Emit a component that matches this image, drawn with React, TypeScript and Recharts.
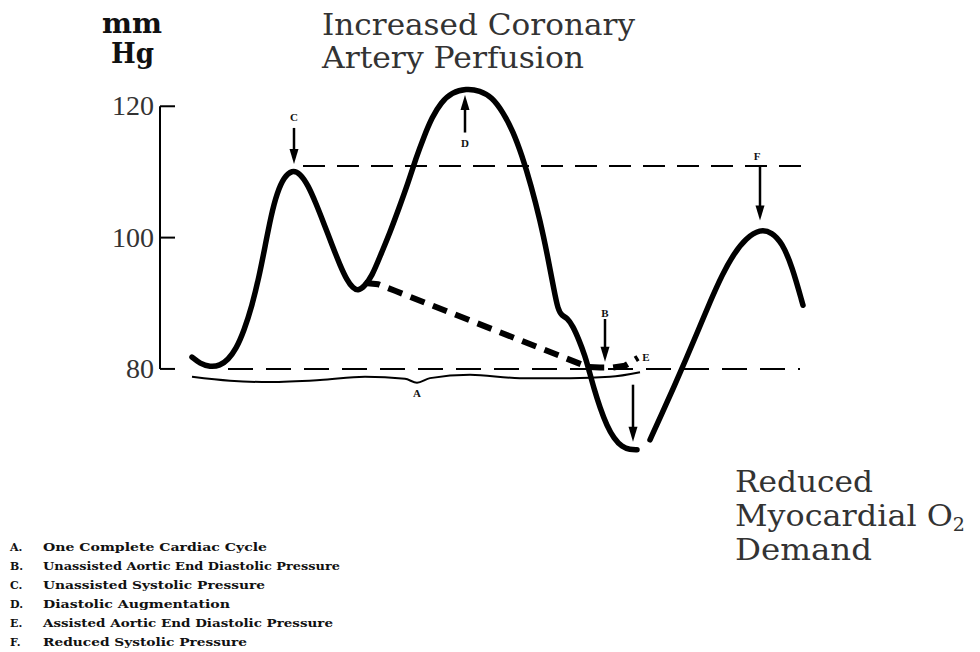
import { ComposedChart, Line, XAxis, YAxis, ReferenceLine, ReferenceDot } from 'recharts';

// time in ms, pressure in mmHg
const waveTime = [
  64, 80, 100, 120, 136, 152, 168, 184, 198, 210, 222, 234, 248, 264, 280, 296, 312, 328, 344, 360, 374,
  386, 396, 408, 424, 442, 460, 478, 496, 512, 528, 544, 562, 584, 612, 640, 664, 686, 706, 724, 742, 760,
  776, 788, 796, 804, 814, 826, 838, 850, 858, 868, 880, 894, 908, 924, 940, 954, 966, 980, 1004, 1028,
  1052, 1076, 1100, 1124, 1148, 1172, 1200, 1224, 1244, 1264, 1286,
];
const wavePressure = [
  81.8, 80.8, 80.3, 80.5, 81.4, 83.0, 85.8, 89.6, 94.0, 98.6, 103.3, 106.8, 109.2, 110.3, 109.8, 108.0,
  105.2, 102.1, 98.9, 95.8, 93.5, 92.3, 91.9, 92.5, 94.1, 97.5, 100.8, 104.5, 108.3, 112.1, 115.4, 118.3,
  120.6, 122.1, 122.7, 122.4, 121.4, 119.1, 116.2, 112.5, 108.0, 102.7, 96.9, 92.0, 89.0, 88.1, 87.8,
  86.5, 84.4, 82.0, 79.8, 77.0, 74.1, 71.3, 69.4, 68.1, 67.7, 67.7, null, 69.2, 73.2, 77.3, 81.5, 85.8,
  90.2, 94.3, 97.6, 99.9, 101.3, 100.8, 99.2, 95.7, 89.7,
];

const augmentTime = [410, 436, 470, 856, 880, 904, 930, 956];
const augmentPressure = [93.1, 92.9, 91.9, 80.3, 80.2, 80.2, 80.5, 81.7];

const braceTime = [64, 140, 220, 320, 410, 490, 514, 540, 620, 720, 820, 900, 960];
const bracePressure = [78.8, 78.2, 78.0, 78.3, 78.8, 78.5, 77.9, 78.6, 79.1, 78.6, 78.6, 78.8, 79.5];

const yTicks = [80, 100, 120];
const unassistedSystolic = 110.9;
const unassistedEndDiastolic = 80;

// arrows: [time, from, to]
const arrows = [
  [268, 116.7, 111.2],
  [610, 116.0, 121.7],
  [890, 87.6, 81.1],
  [946, 77.6, 68.9],
  [1200, 110.8, 102.6],
];

// point labels: [letter, time, pressure]
const pointLabels = [
  ['C', 268, 118.3],
  ['D', 610, 114.4],
  ['B', 890, 88.5],
  ['E', 972, 81.8],
  ['F', 1194, 112.5],
  ['A', 514, 76.3],
];

const legendLetters = ['A.', 'B.', 'C.', 'D.', 'E.', 'F.'];
const legendTexts = [
  'One Complete Cardiac Cycle',
  'Unassisted Aortic End Diastolic Pressure',
  'Unassisted Systolic Pressure',
  'Diastolic Augmentation',
  'Assisted Aortic End Diastolic Pressure',
  'Reduced Systolic Pressure',
];
const legendWidths = [224, 297, 222, 187, 290, 204];

const waveData = waveTime.map((t, i) => ({ t, p: wavePressure[i] }));
const augmentData = augmentTime.map((t, i) => ({ t, p: augmentPressure[i] }));
const braceData = braceTime.map((t, i) => ({ t, p: bracePressure[i] }));

const serif = '"Liberation Serif", "Times New Roman", serif';
const wideSerif = '"DejaVu Serif", serif';

function AxisTick(props: any) {
  const { x, y, payload } = props;
  return (
    <g>
      <text x={x - 6} y={y} dy={9} textAnchor='end' fontFamily={serif} fontSize={28} fill='#333'>
        {payload.value}
      </text>
      <line x1={x} x2={x + 15} y1={y} y2={y} stroke='#000' strokeWidth={2} />
    </g>
  );
}

function ArrowShape(props: any) {
  const { x1, y1, x2, y2 } = props;
  const dir = Math.sign(y2 - y1);
  return (
    <g>
      <line x1={x1} y1={y1} x2={x2} y2={y2 - dir * 8} stroke='#000' strokeWidth={2.5} />
      <polygon points={`${x2},${y2} ${x2 - 4.5},${y2 - dir * 15} ${x2 + 4.5},${y2 - dir * 15}`} fill='#000' />
    </g>
  );
}

export default function App() {
  return (
    <div style={{ position: 'absolute', left: 0, top: 0, width: 980, height: 652, background: '#fff' }}>
      <ComposedChart width={980} height={652} margin={{ top: 80, right: 170, bottom: 178, left: 0 }}>
        <XAxis type='number' dataKey='t' domain={[0, 1300]} hide allowDataOverflow />
        <YAxis
          type='number'
          domain={[64, 124]}
          ticks={yTicks}
          interval={0}
          width={160}
          axisLine={false}
          tickLine={false}
          tickSize={0}
          tickMargin={0}
          tick={(p: any) => <AxisTick {...p} />}
          allowDataOverflow
        />
        <ReferenceLine
          segment={[
            { x: 0, y: 80 },
            { x: 0, y: 120 },
          ]}
          stroke='#000'
          strokeWidth={2}
        />
        <ReferenceLine
          segment={[
            { x: 286, y: unassistedSystolic },
            { x: 1284, y: unassistedSystolic },
          ]}
          stroke='#000'
          strokeWidth={2}
          strokeDasharray='22 12'
        />
        <ReferenceLine
          segment={[
            { x: 136, y: unassistedEndDiastolic },
            { x: 1280, y: unassistedEndDiastolic },
          ]}
          stroke='#000'
          strokeWidth={2}
          strokeDasharray='25 13'
        />
        <Line
          data={braceData}
          dataKey='p'
          type='monotone'
          stroke='#000'
          strokeWidth={2}
          dot={false}
          isAnimationActive={false}
        />
        <Line
          data={augmentData}
          dataKey='p'
          type='linear'
          stroke='#000'
          strokeWidth={6}
          strokeDasharray='15 9'
          dot={false}
          isAnimationActive={false}
        />
        <Line
          data={waveData}
          dataKey='p'
          type='basis'
          stroke='#000'
          strokeWidth={5.5}
          strokeLinecap='round'
          strokeLinejoin='round'
          dot={false}
          connectNulls={false}
          isAnimationActive={false}
        />
        {arrows.map(([t, from, to], i) => (
          <ReferenceLine
            key={`arrow-${i}`}
            segment={[
              { x: t, y: from },
              { x: t, y: to },
            ]}
            shape={(p: any) => <ArrowShape {...p} />}
          />
        ))}
        {pointLabels.map(([letter, t, p]) => (
          <ReferenceDot
            key={`label-${letter}`}
            x={t as number}
            y={p as number}
            r={0}
            shape={(s: any) => (
              <text
                x={s.cx}
                y={s.cy}
                dy={4}
                textAnchor='middle'
                fontFamily={serif}
                fontWeight='bold'
                fontSize={11}
                fill='#111'
              >
                {letter}
              </text>
            )}
          />
        ))}
      </ComposedChart>

      <svg
        width={980}
        height={652}
        style={{ position: 'absolute', left: 0, top: 0, pointerEvents: 'none' }}
      >
        <text x={102} y={33} fontFamily={wideSerif} fontWeight='bold' fontSize={27} textLength={60} lengthAdjust='spacingAndGlyphs' fill='#111'>
          mm
        </text>
        <text x={111} y={63} fontFamily={wideSerif} fontWeight='bold' fontSize={27} textLength={43} lengthAdjust='spacingAndGlyphs' fill='#111'>
          Hg
        </text>

        <text x={322} y={35} fontFamily={wideSerif} fontSize={30} textLength={313} lengthAdjust='spacingAndGlyphs' fill='#333'>
          Increased Coronary
        </text>
        <text x={322} y={68} fontFamily={wideSerif} fontSize={30} textLength={262} lengthAdjust='spacingAndGlyphs' fill='#333'>
          Artery Perfusion
        </text>

        <text x={735} y={492} fontFamily={wideSerif} fontSize={30} textLength={138} lengthAdjust='spacingAndGlyphs' fill='#333'>
          Reduced
        </text>
        <text x={735} y={526} fontFamily={wideSerif} fontSize={30} textLength={230} lengthAdjust='spacingAndGlyphs' fill='#333'>
          Myocardial O
          <tspan fontSize={18} dy={5}>
            2
          </tspan>
        </text>
        <text x={735} y={560} fontFamily={wideSerif} fontSize={30} textLength={137} lengthAdjust='spacingAndGlyphs' fill='#333'>
          Demand
        </text>

        {legendTexts.map((label, i) => (
          <g key={label}>
            <text x={10} y={551 + i * 19} fontFamily={wideSerif} fontWeight='bold' fontSize={11} fill='#111'>
              {legendLetters[i]}
            </text>
            <text
              x={43}
              y={551 + i * 19}
              fontFamily={wideSerif}
              fontWeight='bold'
              fontSize={11.5}
              textLength={legendWidths[i]}
              lengthAdjust='spacingAndGlyphs'
              fill='#111'
            >
              {label}
            </text>
          </g>
        ))}
      </svg>
    </div>
  );
}
